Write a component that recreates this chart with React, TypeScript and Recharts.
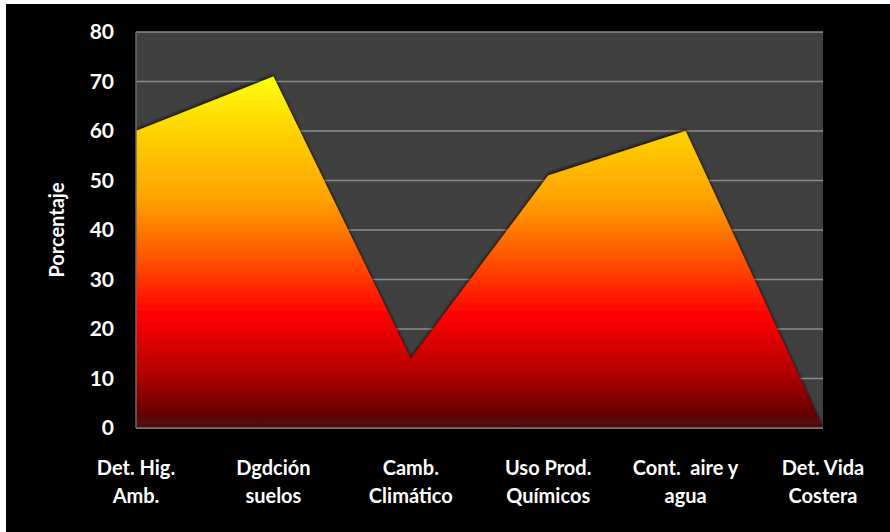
import React from 'react';
import { AreaChart, Area, XAxis, YAxis, CartesianGrid } from 'recharts';

// categories (line break marks the second label line)
const categories = [
  'Det. Hig.\nAmb.',
  'Dgdción\nsuelos',
  'Camb.\nClimático',
  'Uso Prod.\nQuímicos',
  'Cont.  aire y\nagua',
  'Det. Vida\nCostera',
];

const porcentajes = [60, 71, 14, 51, 60, 0];

const yTicks = [0, 10, 20, 30, 40, 50, 60, 70, 80];

const data = categories.map((name, i) => ({ name, value: porcentajes[i] }));

const FONT = 'Lato, "Open Sans", sans-serif';

const CategoryTick = (props: any) => {
  const { x, y, payload } = props;
  const lines = String(payload.value).split('\n');
  return (
    <text
      x={x}
      y={y}
      textAnchor="middle"
      fill="#ffffff"
      fontFamily={FONT}
      fontSize={20}
      fontWeight={700}
      style={{ whiteSpace: 'pre' }}
    >
      {lines.map((line, i) => (
        <tspan key={i} x={x} dy={i === 0 ? 39 : 28}>
          {line}
        </tspan>
      ))}
    </text>
  );
};

const AxisTitle = (props: any) => {
  const { viewBox } = props;
  const cx = viewBox.x + 50;
  const cy = viewBox.y + viewBox.height / 2;
  return (
    <text
      x={cx}
      y={cy}
      transform={`rotate(-90, ${cx}, ${cy})`}
      textAnchor="middle"
      dominantBaseline="central"
      fill="#ffffff"
      fontFamily={FONT}
      fontSize={20}
      fontWeight={700}
    >
      Porcentaje
    </text>
  );
};

export default function App() {
  return (
    <div
      style={{
        position: 'fixed',
        left: 6,
        top: 4,
        width: 884,
        height: 528,
        background: '#000000',
      }}
    >
      <AreaChart
        width={884}
        height={528}
        data={data}
        margin={{ top: 28, right: 67, bottom: 0, left: 0 }}
      >
        <defs>
          <linearGradient id="fuego" x1="0" y1="0" x2="0" y2="1">
            <stop offset="0%" stopColor="#ffff10" />
            <stop offset="15%" stopColor="#ffd400" />
            <stop offset="35%" stopColor="#ffa200" />
            <stop offset="52%" stopColor="#ff5200" />
            <stop offset="68%" stopColor="#ff0000" />
            <stop offset="85%" stopColor="#b00000" />
            <stop offset="100%" stopColor="#4a0808" />
          </linearGradient>
          <filter id="bisel" x="-5%" y="-10%" width="110%" height="120%">
            <feDropShadow dx="0" dy="-2" stdDeviation="1.5" floodColor="#000000" floodOpacity="0.7" />
          </filter>
        </defs>
        <CartesianGrid
          vertical={false}
          stroke="#8c8c8c"
          strokeWidth={1.5}
          fill="#404040"
          fillOpacity={1}
        />
        <XAxis
          dataKey="name"
          height={104}
          interval={0}
          tickLine={false}
          axisLine={{ stroke: '#8a7070', strokeWidth: 1.5 }}
          tick={<CategoryTick />}
        />
        <YAxis
          width={130}
          domain={[0, 80]}
          ticks={yTicks}
          interval={0}
          tickLine={false}
          tickSize={0}
          tickMargin={22}
          axisLine={{ stroke: '#6a6a6a', strokeWidth: 1.5 }}
          tick={{ fill: '#ffffff', fontFamily: FONT, fontSize: 21, fontWeight: 700 }}
          label={<AxisTitle />}
        />
        <Area
          type="linear"
          dataKey="value"
          stroke="none"
          fill="url(#fuego)"
          fillOpacity={1}
          filter="url(#bisel)"
          isAnimationActive={false}
          dot={false}
          activeDot={false}
        />
      </AreaChart>
    </div>
  );
}
